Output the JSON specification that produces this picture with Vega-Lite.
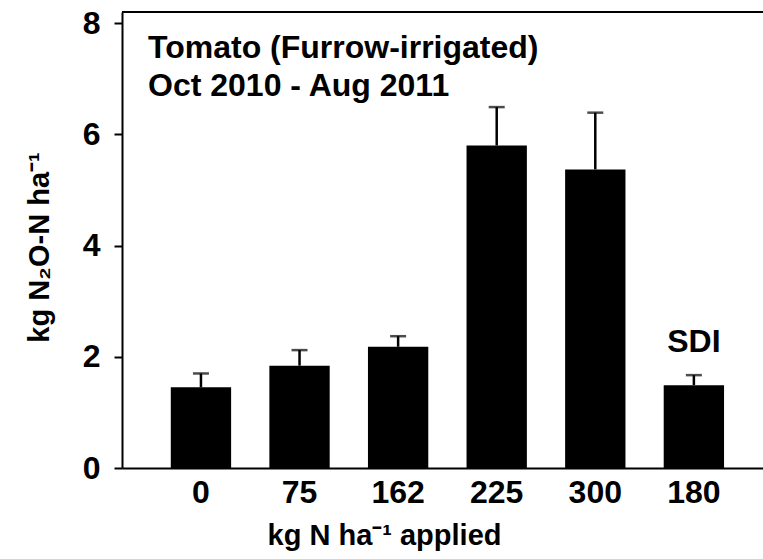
{
  "$schema": "https://vega.github.io/schema/vega-lite/v6.json",
  "width": 641,
  "height": 456,
  "autosize": {"type": "none"},
  "padding": {"left": 122, "top": 12, "right": 0, "bottom": 91},
  "background": "white",
  "view": {"stroke": null},
  "title": {
    "text": ["Tomato (Furrow-irrigated)", "Oct 2010 - Aug 2011"],
    "anchor": "start",
    "frame": "group",
    "orient": "top",
    "offset": -96,
    "dx": 26,
    "font": "Liberation Sans",
    "fontSize": 32,
    "fontWeight": "bold",
    "lineHeight": 38,
    "color": "black"
  },
  "config": {
    "axis": {
      "labelFont": "Liberation Sans",
      "labelFontWeight": "bold",
      "labelFontSize": 32,
      "labelColor": "black",
      "titleFont": "Liberation Sans",
      "titleFontWeight": "bold",
      "titleFontSize": 29,
      "titleColor": "black",
      "domainColor": "black",
      "domainWidth": 2,
      "tickColor": "black",
      "tickWidth": 2,
      "grid": false
    }
  },
  "data": {
    "values": [
      {"n": "0", "v": 1.45, "hi": 1.70, "note": ""},
      {"n": "75", "v": 1.84, "hi": 2.12, "note": ""},
      {"n": "162", "v": 2.18, "hi": 2.37, "note": ""},
      {"n": "225", "v": 5.80, "hi": 6.49, "note": ""},
      {"n": "300", "v": 5.37, "hi": 6.39, "note": ""},
      {"n": "180", "v": 1.49, "hi": 1.67, "note": "SDI"}
    ]
  },
  "layer": [
    {
      "encoding": {
        "x": {
          "field": "n",
          "type": "nominal",
          "sort": null,
          "scale": {"paddingInner": 0.388, "paddingOuter": 0.445, "align": 0.556},
          "axis": {"labelAngle": 0, "ticks": false, "labelPadding": 9, "title": "kg N ha⁻¹ applied", "titlePadding": 13, "titleX": 262, "titleAnchor": "start", "titleAlign": "center"}
        }
      },
      "layer": [
        {
          "mark": {"type": "bar", "color": "black"},
          "encoding": {
            "y": {
              "field": "v",
              "type": "quantitative",
              "scale": {"domain": [0, 8.2], "nice": false},
              "axis": {"values": [0, 2, 4, 6, 8], "format": "d", "tickSize": 8, "labelPadding": 14, "title": "kg N₂O-N ha⁻¹", "titlePadding": 28, "titleY": 235, "titleAlign": "center"}
            }
          }
        },
        {
          "mark": {"type": "rule", "color": "black", "strokeWidth": 2.5},
          "encoding": {
            "y": {"field": "v", "type": "quantitative"},
            "y2": {"field": "hi"}
          }
        },
        {
          "mark": {"type": "tick", "color": "black", "thickness": 2.5, "size": 16, "orient": "horizontal"},
          "encoding": {
            "y": {"field": "hi", "type": "quantitative"}
          }
        },
        {
          "mark": {"type": "text", "color": "black", "font": "Liberation Sans", "fontWeight": "bold", "fontSize": 32, "dy": -33, "baseline": "middle"},
          "encoding": {
            "y": {"field": "hi", "type": "quantitative"},
            "text": {"field": "note"}
          }
        }
      ]
    },
    {
      "mark": {"type": "rule", "color": "black", "strokeWidth": 2},
      "encoding": {
        "y": {"datum": 8.2}
      }
    }
  ]
}
